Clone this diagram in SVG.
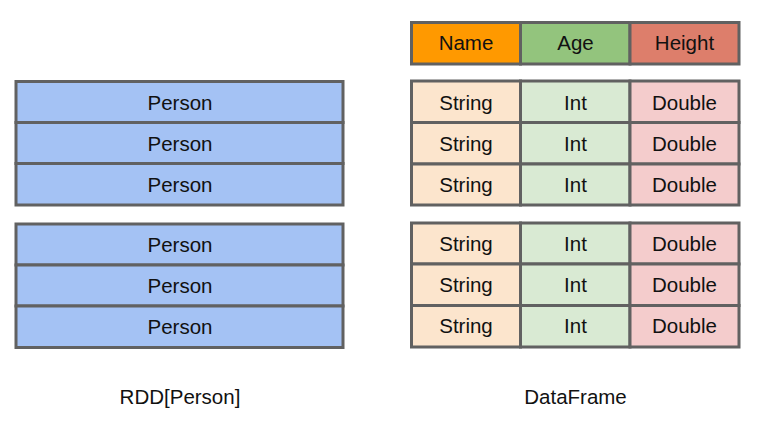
<svg xmlns="http://www.w3.org/2000/svg" width="765" height="422" viewBox="0 0 765 422">
<style>
.c{stroke:#616161;stroke-width:3}
.p{fill:#a4c2f4}
.n{fill:#ff9900}.a{fill:#93c47d}.h{fill:#dd7e6b}
.s{fill:#fce5cd}.i{fill:#d9ead3}.d{fill:#f4cccc}
text{font-family:"Liberation Sans",Arial,sans-serif;font-size:20.5px;fill:#111;text-anchor:middle}
</style>
<rect width="765" height="422" fill="#fff"/>
<g id="rdd">
<rect class="c p" x="16" y="81.5" width="327" height="41"/>
<rect class="c p" x="16" y="122.5" width="327" height="41"/>
<rect class="c p" x="16" y="163.5" width="327" height="41.5"/>
<rect class="c p" x="16" y="224" width="327" height="41"/>
<rect class="c p" x="16" y="265" width="327" height="41"/>
<rect class="c p" x="16" y="306" width="327" height="41.5"/>
<text x="180" y="109.5">Person</text>
<text x="180" y="150.5">Person</text>
<text x="180" y="191.5">Person</text>
<text x="180" y="252">Person</text>
<text x="180" y="293">Person</text>
<text x="180" y="334">Person</text>
</g>
<g id="header">
<rect class="c n" x="411.5" y="22.5" width="109" height="41.5"/>
<rect class="c a" x="520.5" y="22.5" width="109.5" height="41.5"/>
<rect class="c h" x="630" y="22.5" width="109" height="41.5"/>
<text x="466" y="50">Name</text>
<text x="575.5" y="50">Age</text>
<text x="684.5" y="50">Height</text>
</g>
<g id="df1">
<rect class="c s" x="411.5" y="81" width="109" height="41.5"/>
<rect class="c i" x="520.5" y="81" width="109.5" height="41.5"/>
<rect class="c d" x="630" y="81" width="109" height="41.5"/>
<rect class="c s" x="411.5" y="122.5" width="109" height="41.5"/>
<rect class="c i" x="520.5" y="122.5" width="109.5" height="41.5"/>
<rect class="c d" x="630" y="122.5" width="109" height="41.5"/>
<rect class="c s" x="411.5" y="164" width="109" height="41"/>
<rect class="c i" x="520.5" y="164" width="109.5" height="41"/>
<rect class="c d" x="630" y="164" width="109" height="41"/>
<text x="466" y="109.5">String</text><text x="575.5" y="109.5">Int</text><text x="684.5" y="109.5">Double</text>
<text x="466" y="150.5">String</text><text x="575.5" y="150.5">Int</text><text x="684.5" y="150.5">Double</text>
<text x="466" y="191.5">String</text><text x="575.5" y="191.5">Int</text><text x="684.5" y="191.5">Double</text>
</g>
<g id="df2">
<rect class="c s" x="411.5" y="223" width="109" height="41"/>
<rect class="c i" x="520.5" y="223" width="109.5" height="41"/>
<rect class="c d" x="630" y="223" width="109" height="41"/>
<rect class="c s" x="411.5" y="264" width="109" height="41.5"/>
<rect class="c i" x="520.5" y="264" width="109.5" height="41.5"/>
<rect class="c d" x="630" y="264" width="109" height="41.5"/>
<rect class="c s" x="411.5" y="305.5" width="109" height="41.5"/>
<rect class="c i" x="520.5" y="305.5" width="109.5" height="41.5"/>
<rect class="c d" x="630" y="305.5" width="109" height="41.5"/>
<text x="466" y="251">String</text><text x="575.5" y="251">Int</text><text x="684.5" y="251">Double</text>
<text x="466" y="292">String</text><text x="575.5" y="292">Int</text><text x="684.5" y="292">Double</text>
<text x="466" y="333">String</text><text x="575.5" y="333">Int</text><text x="684.5" y="333">Double</text>
</g>
<g id="labels">
<text x="180" y="404">RDD[Person]</text>
<text x="575.5" y="404">DataFrame</text>
</g>
</svg>
